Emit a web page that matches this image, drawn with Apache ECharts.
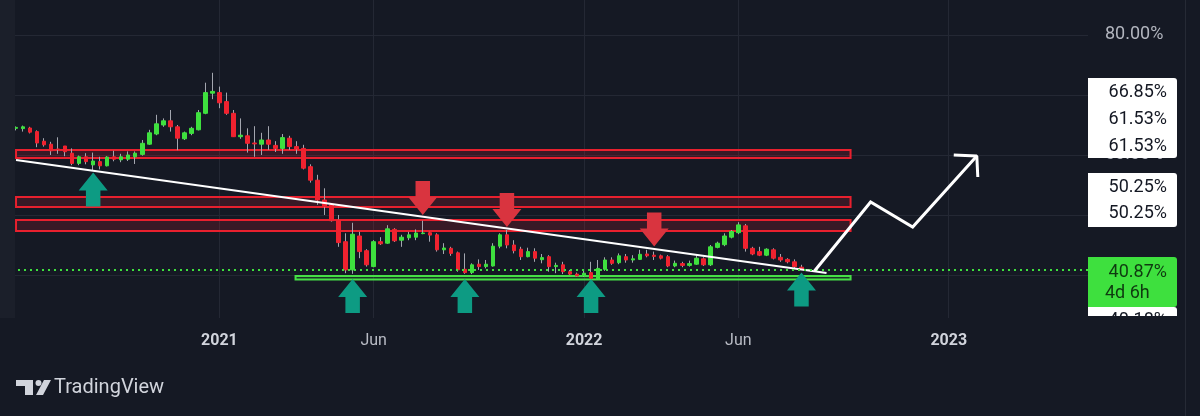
<!DOCTYPE html>
<html><head><meta charset="utf-8">
<script src="https://cdn.jsdelivr.net/npm/echarts@6/dist/echarts.min.js"></script>
<style>html,body{margin:0;padding:0;background:#151924;}#c{width:1200px;height:416px;}</style>
</head><body><div id="c"></div>
<script>
// ---- data (weekly candles, first bar = week of 2020-06-15) ----
const firstWeek = [2020, 6, 15];
const opens  = [64.45,64.4,64.5,63.9,62.3,61.8,61.0,61.5,60.3,58.6,59.7,58.35,58.9,58.2,59.7,59.2,59.3,59.7,60.1,61.8,63.5,65.0,65.7,64.7,62.7,63.6,64.2,66.95,70.3,70.4,68.9,66.95,63.05,63.2,62.0,61.8,62.5,61.6,61.1,62.8,61.4,61.1,58.05,55.8,52.5,51.7,49.2,45.55,40.85,46.5,44.05,41.4,45.55,45.3,47.6,45.8,46.2,46.3,46.9,47.05,46.7,44.2,44.45,43.7,40.95,40.4,41.8,41.4,41.5,44.8,46.7,45.0,44.3,43.05,43.9,42.55,43.05,41.4,41.7,40.55,40.15,39.9,40.4,39.3,40.95,42.5,42.05,43.05,42.5,42.6,43.5,43.3,43.2,43.05,41.5,41.9,41.6,41.8,42.7,41.7,44.6,45.05,46.3,47.05,48.2,44.45,43.9,43.3,44.2,42.95,42.6,42.2,41.3,40.8];
const closes = [64.6,64.7,63.8,62.0,61.7,60.7,60.9,60.55,58.6,59.7,58.9,59.0,58.2,59.65,59.3,59.7,60.0,60.3,61.95,63.7,65.2,65.7,64.7,62.8,63.7,64.45,67.05,70.4,70.6,68.7,66.95,63.05,63.3,61.95,61.85,62.5,61.8,61.1,62.9,61.4,61.0,57.8,55.8,52.5,51.4,49.05,45.4,40.85,46.8,43.9,41.7,45.55,45.2,47.7,45.7,46.3,46.7,47.0,47.0,46.65,44.2,44.5,43.6,40.85,40.4,41.7,41.4,41.8,44.8,46.7,45.0,44.05,43.05,43.9,42.8,42.9,41.4,41.6,40.55,40.15,39.85,40.3,39.45,41.1,42.5,41.95,43.2,42.5,42.7,43.45,43.2,43.1,42.8,41.5,41.95,41.6,41.9,42.8,41.7,44.7,45.3,46.5,47.25,48.35,44.45,43.5,43.3,44.3,42.8,42.5,42.2,41.4,40.95,40.87];
const lows   = [64.1,63.9,63.6,61.3,61.4,60.0,60.2,59.8,58.3,58.3,58.45,57.5,57.6,58.1,58.95,58.8,59.0,58.5,59.9,61.7,63.3,64.7,63.9,60.8,62.5,63.3,64.1,66.8,69.3,67.8,66.7,63.0,62.7,60.4,59.7,60.0,60.85,60.5,60.2,60.85,60.2,57.6,55.4,51.7,50.0,48.9,44.7,40.3,40.2,42.8,41.4,41.3,45.0,45.2,45.5,44.7,45.8,45.8,46.8,45.55,43.9,43.5,43.2,40.55,40.2,40.15,40.85,41.1,41.4,44.45,44.45,43.6,42.5,42.95,42.2,41.95,40.55,40.3,40.15,40.0,39.7,39.7,39.3,39.2,40.7,41.7,41.8,42.05,42.05,42.5,42.95,42.5,42.6,41.3,41.3,41.3,41.4,41.7,41.5,41.5,44.45,44.8,46.1,46.8,43.9,43.3,43.15,43.15,42.6,42.2,41.95,41.1,40.85,40.75];
const highs  = [64.75,64.9,64.7,64.1,62.8,62.2,62.95,61.5,61.1,59.9,60.3,60.4,59.7,59.8,60.7,60.2,60.6,60.6,62.5,64.2,66.7,66.1,67.5,65.0,63.9,64.7,67.5,72.05,73.7,71.4,70.4,67.5,66.1,64.45,64.8,63.7,64.8,62.3,63.5,63.2,62.3,61.7,58.45,56.7,54.45,51.8,50.0,46.95,48.7,47.2,44.3,45.8,46.3,48.3,47.8,46.7,47.2,47.6,49.05,47.2,46.95,45.3,44.7,43.9,43.6,41.95,42.6,42.5,45.3,46.95,47.5,45.8,44.7,44.55,44.45,43.5,43.3,42.05,42.2,40.85,40.4,40.85,42.2,42.5,42.95,42.95,43.6,43.5,43.3,44.2,44.2,43.9,43.4,43.3,42.4,42.2,42.4,43.3,42.95,45.0,45.55,46.95,47.5,48.8,48.5,44.7,44.7,44.45,44.45,43.5,42.8,42.6,41.7,41.0];
const xTickDates  = ['2021-01-04','2021-06-07','2022-01-03','2022-06-06','2023-01-02'];
const xTickLabels = ['2021','Jun','2022','Jun','2023'];
const yTicks = [40, 50, 60, 70, 80];
const lastPrice = 40.87;
const trendLine = [['2020-06-15', 59.17], ['2022-09-02', 40.33]];
const projection = [['2022-08-21', 40.67], ['2022-10-16', 52.17], ['2022-11-27', 48.0], ['2023-01-30', 59.83]];
const projectionHead = [['2023-01-07', 60.0], ['2023-01-30', 59.83], ['2023-01-31', 56.33]];
// [from, to, top, bottom]
const resistanceZones = [['2020-06-15','2022-09-26',60.83,59.5],['2020-06-15','2022-09-26',53.0,51.33],['2020-06-15','2022-09-26',49.17,47.33]];
const supportZones = [['2021-03-21','2022-09-26',39.83,39.25]];
const upArrows = [['2020-08-31',54.25],['2021-05-17',36.5],['2021-09-06',36.5],['2022-01-10',36.5],['2022-08-08',37.58]];
const downArrows = [['2021-07-26',52.83],['2021-10-18',50.83],['2022-03-14',47.58]];
const scaleLabelsA = ['66.85%','61.53%','61.53%'];
const scaleLabelsB = ['50.25%','50.25%'];
const countdown = '4d 6h';
const hiddenLabel = '40.18%';
const brand = 'TradingView';

// ---- helpers ----
function T(s){ const p = s.split('-').map(Number); return new Date(p[0], p[1]-1, p[2]).getTime(); }
const BG = '#151924', GRID = '#242834', UP = '#3ee03e', DOWN = '#f0222f', WICK = '#a3a6af';
const candleTimes = opens.map((_, i) => new Date(firstWeek[0], firstWeek[1]-1, firstWeek[2] + 7*i).getTime());
const wickData = opens.map((o, i) => [candleTimes[i], o, closes[i], lows[i], highs[i]]);
const bodyData = opens.map((o, i) => [candleTimes[i], o, closes[i], Math.min(o, closes[i]), Math.max(o, closes[i])]);
const tickTimes = xTickDates.map(T);
const pt = a => [T(a[0]), a[1]];
function zoneAreas(z){ return z.map(r => [{xAxis: T(r[0]), yAxis: r[2]}, {xAxis: T(r[1]), yAxis: r[3]}]); }

const chart = echarts.init(document.getElementById('c'), null, {renderer: 'canvas'});
const FONT = 'Roboto';
const labelText = (txt, x, y, color) => ({type:'text', z:101, style:{text:txt, x:x, y:y, fill:color, font:'18px ' + FONT, align:'right', verticalAlign:'middle'}});

chart.setOption({
  backgroundColor: BG,
  animation: false,
  grid: {left: 0, top: 0, width: 1088, height: 318, containLabel: false},
  xAxis: {
    type: 'value', min: T('2020-05-30'), max: T('2023-05-21'),
    axisLine: {show: false}, axisTick: {show: false, customValues: tickTimes},
    splitLine: {show: true, lineStyle: {color: GRID, width: 1}},
    axisLabel: {
      customValues: tickTimes, margin: 15, fontFamily: FONT,
      formatter: v => { const i = tickTimes.indexOf(v); const t = i >= 0 ? xTickLabels[i] : ''; return /^\d+$/.test(t) ? '{y|' + t + '}' : '{m|' + t + '}'; },
      rich: {y: {fontSize: 16, fontWeight: 'bold', color: '#d1d4dc', fontFamily: FONT}, m: {fontSize: 16, color: '#b8bbc4', fontFamily: FONT}}
    }
  },
  yAxis: {
    type: 'value', position: 'right', min: 32.8333, max: 85.8333, scale: true,
    axisLine: {show: false}, axisTick: {show: false, customValues: yTicks},
    splitLine: {show: true, lineStyle: {color: GRID, width: 1}},
    axisLabel: {customValues: yTicks, formatter: v => v.toFixed(2) + '%', color: '#b2b5be', fontSize: 18, fontFamily: FONT, margin: 17}
  },
  series: [
    {type: 'candlestick', name: 'wicks', data: wickData, encode: {x: 0, y: [1,2,3,4]}, barWidth: 1, silent: true,
     itemStyle: {color: WICK, color0: WICK, borderColor: WICK, borderColor0: WICK, borderWidth: 1}},
    {type: 'candlestick', name: 'bodies', data: bodyData, encode: {x: 0, y: [1,2,3,4]}, barWidth: 4, silent: true,
     itemStyle: {color: UP, color0: DOWN, borderColor: UP, borderColor0: DOWN, borderWidth: 1},
     markLine: {silent: true, symbol: 'none', label: {show: false}, lineStyle: {color: '#3ee03e', type: [2, 4], width: 2}, data: [{yAxis: lastPrice}]}},
    {type: 'line', name: 'trend', data: trendLine.map(pt), symbol: 'none', silent: true, z: 4,
     lineStyle: {color: '#ffffff', width: 2},
     markArea: {silent: true, data: zoneAreas(resistanceZones), itemStyle: {color: 'rgba(242,34,47,0.16)', borderColor: '#e8202e', borderWidth: 2}}},
    {type: 'line', name: 'support', data: [], symbol: 'none', silent: true, z: 4,
     markArea: {silent: true, data: zoneAreas(supportZones), itemStyle: {color: 'rgba(62,224,62,0.15)', borderColor: '#46e046', borderWidth: 2}}},
    {type: 'line', name: 'projection', data: projection.map(pt), symbol: 'none', silent: true, z: 5,
     lineStyle: {color: '#ffffff', width: 3, join: 'miter'}},
    {type: 'line', name: 'projectionHead', data: projectionHead.map(pt), symbol: 'none', silent: true, z: 5,
     lineStyle: {color: '#ffffff', width: 3}},
    {type: 'scatter', name: 'up', data: upArrows.map(pt), silent: true, z: 6, symbolSize: [29, 34],
     symbol: 'path://M15,0 L30,18 L22.5,18 L22.5,34 L7.5,34 L7.5,18 L0,18 Z', itemStyle: {color: '#0d9b83', opacity: 1}},
    {type: 'scatter', name: 'down', data: downArrows.map(pt), silent: true, z: 6, symbolSize: [29, 34],
     symbol: 'path://M7.5,0 L22.5,0 L22.5,16 L30,16 L15,34 L0,16 L7.5,16 Z', itemStyle: {color: '#d9343f', opacity: 1}}
  ],
  graphic: [
    {type: 'rect', z: 100, shape: {x: 0, y: 0, width: 15, height: 318}, style: {fill: '#1b1f2a'}},
    {type: 'line', z: 100, shape: {x1: 1185.5, y1: 0, x2: 1185.5, y2: 416}, style: {stroke: '#262a35', lineWidth: 1}},
    {type: 'rect', z: 100, shape: {x: 1088, y: 78, width: 89, height: 80, r: [0,3,3,0]}, style: {fill: '#ffffff'}},
    labelText(scaleLabelsA[0], 1167, 92, '#131722'),
    labelText(scaleLabelsA[1], 1167, 119, '#131722'),
    labelText(scaleLabelsA[2], 1167, 146, '#131722'),
    {type: 'rect', z: 100, shape: {x: 1088, y: 173, width: 89, height: 54, r: [0,3,3,0]}, style: {fill: '#ffffff'}},
    labelText(scaleLabelsB[0], 1167, 187, '#131722'),
    labelText(scaleLabelsB[1], 1167, 213, '#131722'),
    {type: 'rect', z: 100, shape: {x: 1088, y: 307, width: 89, height: 26, r: [0,3,3,0]}, style: {fill: '#ffffff'}},
    labelText(hiddenLabel, 1167, 320, '#131722'),
    {type: 'rect', z: 102, shape: {x: 1086, y: 316, width: 99, height: 20}, style: {fill: BG}},
    {type: 'rect', z: 100, shape: {x: 1088, y: 257, width: 89, height: 50, r: [0,3,3,0]}, style: {fill: '#3ee03e'}},
    labelText(lastPrice.toFixed(2) + '%', 1167, 272, '#0f3a10'),
    {type: 'text', z: 101, style: {text: countdown, x: 1105, y: 293, fill: '#0f3a10', font: '18px ' + FONT, align: 'left', verticalAlign: 'middle'}},
    {type: 'group', z: 101, children: [
      {type: 'rect', shape: {x: 16, y: 380, width: 17, height: 6}, style: {fill: '#d1d4dc'}},
      {type: 'rect', shape: {x: 25, y: 380, width: 8, height: 15}, style: {fill: '#d1d4dc'}},
      {type: 'circle', shape: {cx: 38.5, cy: 383, r: 3}, style: {fill: '#d1d4dc'}},
      {type: 'polygon', shape: {points: [[44, 380], [51, 380], [43, 395], [36, 395]]}, style: {fill: '#d1d4dc'}}
    ]},
    {type: 'text', z: 101, style: {text: brand, x: 54, y: 388, fill: '#d1d4dc', font: '20px ' + FONT, verticalAlign: 'middle'}}
  ]
});
</script></body></html>
